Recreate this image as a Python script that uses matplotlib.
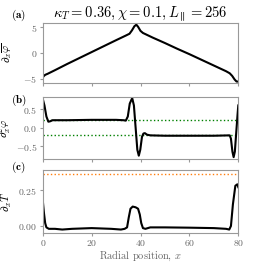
import matplotlib
matplotlib.use("Agg")
import matplotlib.pyplot as plt

plt.rcParams["font.family"] = "serif"
plt.rcParams["font.serif"] = ["cmr10", "DejaVu Serif"]
plt.rcParams["mathtext.fontset"] = "cm"
plt.rcParams["axes.formatter.use_mathtext"] = True
plt.rcParams["axes.unicode_minus"] = True

# panel (a): radial derivative of mean potential
xa = [0, 0.5, 1, 2, 5, 10, 15, 20, 25, 30, 34, 35.5, 36.5, 37.5, 38.3, 39, 40, 41,
      45, 50, 55, 60, 65, 70, 75, 76.5, 77.5, 78.5, 79.3, 80]
ya = [-4.7, -4.4, -4.2, -4.0, -3.3, -2.1, -0.95, 0.2, 1.35, 2.5, 3.4, 3.75, 4.4, 5.2, 5.5, 5.1,
      4.3, 3.9, 3.0, 1.95, 0.85, -0.2, -1.3, -2.4, -3.5, -3.9, -4.4, -5.1, -5.5, -5.5]

# panel (b): second derivative of mean potential
xb = [0, 0.7, 1.5, 2.3, 3, 4, 10, 20, 30, 33, 34, 34.8, 35.6, 36.6, 37.3, 38.0, 38.7, 39.3,
      39.9, 40.6, 41.2, 41.8, 42.6, 44, 50, 60, 70, 76.5, 77.0, 77.6, 78.1, 78.6, 79.2, 79.7, 80]
yb = [0.78, 0.6, 0.3, 0.16, 0.17, 0.2, 0.2, 0.21, 0.21, 0.2, 0.19, 0.3, 0.65, 0.8, 0.6, 0.0,
      -0.6, -0.76, -0.6, -0.25, -0.16, -0.15, -0.19, -0.21, -0.22, -0.22, -0.22, -0.21, -0.3,
      -0.65, -0.8, -0.65, -0.1, 0.35, 0.6]
shear_ref = [0.2, -0.21]

# panel (c): mean temperature gradient
xc = [0, 0.5, 1, 1.5, 2.5, 5, 8, 12, 20, 28, 32, 33.5, 34.5, 35.2, 35.9, 36.8, 38, 39, 39.7,
      40.3, 41, 42, 44, 50, 60, 70, 75, 76.3, 77, 77.8, 78.8, 79.6, 80]
yc = [0.18, 0.09, 0.02, -0.01, -0.02, -0.02, -0.025, -0.02, -0.015, -0.02, -0.025, -0.02,
      -0.01, 0.06, 0.12, 0.135, 0.13, 0.12, 0.08, 0.02, -0.015, -0.02, -0.01, -0.01, -0.012,
      -0.015, -0.02, -0.025, 0.0, 0.15, 0.28, 0.29, 0.27]
kappa_T = 0.36

xticks = [0, 20, 40, 60, 80]
spine_col = "0.6"
label_col = "0.4"

fig = plt.figure(figsize=(2.59, 2.63), dpi=100)
left, width = 0.165, 0.755
ax_a = fig.add_axes([left, 0.683, width, 0.230])
ax_b = fig.add_axes([left, 0.3954, width, 0.236])
ax_c = fig.add_axes([left, 0.1152, width, 0.238])

ax_a.plot(xa, ya, color="k", lw=1.5)
for v in shear_ref:
    ax_b.plot([0, 80], [v, v], color="green", lw=1.0, ls=":")
ax_b.plot(xb, yb, color="k", lw=1.5)
ax_c.plot([0, 80], [kappa_T, kappa_T], color="#ff7f0e", lw=1.0, ls=":")
ax_c.plot(xc, yc, color="k", lw=1.5)

ax_a.set_ylim(-5.85, 5.85)
ax_a.set_yticks([-5, 0, 5])
ax_b.set_ylim(-0.85, 0.83)
ax_b.set_yticks([-0.5, 0.0, 0.5])
ax_b.set_yticklabels(["$-0.5$", "$0.0$", "$0.5$"])
ax_c.set_ylim(-0.047, 0.389)
ax_c.set_yticks([0.0, 0.25])
ax_c.set_yticklabels(["$0.00$", "$0.25$"])

for ax in (ax_a, ax_b, ax_c):
    ax.set_xlim(0, 80)
    ax.set_xticks(xticks)
    for s in ax.spines.values():
        s.set_color(spine_col)
    ax.tick_params(colors=spine_col, labelcolor=label_col, labelsize=7,
                   length=2.5, width=0.8, pad=1.5)
ax_a.tick_params(labelbottom=False)
ax_b.tick_params(labelbottom=False)

ax_a.set_ylabel(r"$\partial_x\overline{\varphi}$", fontsize=8)
ax_b.set_ylabel(r"$\partial_x^2\overline{\varphi}$", fontsize=8)
ax_c.set_ylabel(r"$\partial_x\overline{T}$", fontsize=8)
ax_a.yaxis.set_label_coords(-0.145, 0.5)
ax_b.yaxis.set_label_coords(-0.15, 0.5)
ax_c.yaxis.set_label_coords(-0.145, 0.5)
ax_c.set_xlabel(r"Radial position, $x$", fontsize=7.5, color=label_col, labelpad=1)

ax_a.set_title(r"$\kappa_T = 0.36, \chi = 0.1, L_\parallel = 256$", fontsize=10.5, pad=2)

fig.text(0.072, 0.943, r"$\mathbf{(a)}$", fontsize=8, ha="center", va="center")
fig.text(0.072, 0.620, r"$\mathbf{(b)}$", fontsize=8, ha="center", va="center")
fig.text(0.072, 0.365, r"$\mathbf{(c)}$", fontsize=8, ha="center", va="center")

fig.savefig("out.png", dpi=100)
